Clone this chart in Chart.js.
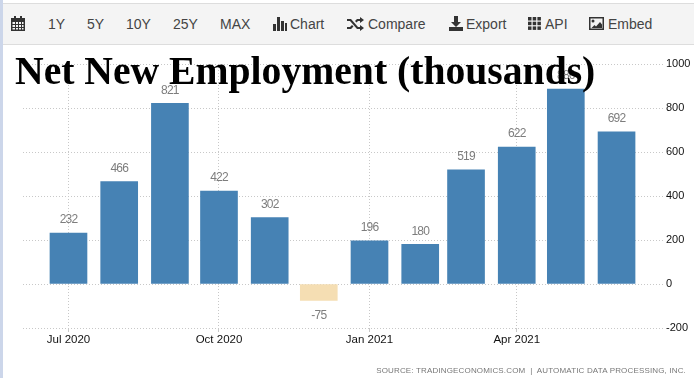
<!DOCTYPE html>
<html>
<head>
<meta charset="utf-8">
<script src="https://cdn.jsdelivr.net/npm/chart.js@4"></script>
<style>
  html, body { margin: 0; padding: 0; background: #fff; overflow: hidden; }
  #page { position: relative; width: 694px; height: 378px; overflow: hidden; }
  #chart { position: absolute; left: 0; top: 0; }
  #edge { position: absolute; left: 0; top: 0; width: 3px; height: 378px; background: #ccd6ea; }
  #bar { position: absolute; left: 3px; top: 3px; width: 691px; height: 42px; box-sizing: border-box;
         background: #f4f4f4; border-top: 1px solid #ddd; border-bottom: 1px solid #ddd; }
  .item { position: absolute; top: 15px; font: 14px/18px "Liberation Sans", Arial, sans-serif; color: #444; white-space: nowrap; }
  svg { position: absolute; fill: #333; }
  #title { position: absolute; left: 15px; top: 47px; font: bold 39.650px/48px "Liberation Serif", "Times New Roman", serif; color: #000; white-space: nowrap; }
  #source { position: absolute; right: 8px; top: 365px; font: 8px/12px "Liberation Sans", Arial, sans-serif; letter-spacing: 0.16px; color: #777; white-space: pre; }
</style>
</head>
<body>
<div id="page">
  <canvas id="chart" width="694" height="378"></canvas>
  <div id="bar"></div>
  <div id="edge"></div>
  <svg style="left:11px;top:16px" width="14" height="15"><path d="M0 2h3V0h2v2h4V0h2v2h3v13H0z"/><path fill="#f4f4f4" d="M1.500 6h2.500v2H1.500zM5 6h2v2H5zM8 6h2v2H8zM11 6h1.500v2H11zM1.500 9h2.500v2H1.500zM5 9h2v2H5zM8 9h2v2H8zM11 9h1.500v2H11zM1.500 12h2.500v1.500H1.500zM5 12h2v1.500H5zM8 12h2v1.500H8zM11 12h1.500v1.500H11z"/></svg>
  <div class="item" style="left:48px">1Y</div>
  <div class="item" style="left:87px">5Y</div>
  <div class="item" style="left:126px">10Y</div>
  <div class="item" style="left:173px">25Y</div>
  <div class="item" style="left:220px">MAX</div>
  <svg style="left:273px;top:17px" width="14" height="14"><rect x="0" y="7" width="3" height="7"/><rect x="4" y="0" width="3" height="14"/><rect x="8" y="4" width="3" height="10"/><rect x="12" y="6" width="2" height="8"/></svg>
  <div class="item" style="left:290px">Chart</div>
  <svg style="left:347px;top:17px" width="17" height="14"><path d="M0 2h4l7 8h2V8l4 3-4 3v-2h-3L3 4H0z"/><path d="M0 10h3l2-2 1.500 1.500L4 12H0z"/><path d="M8 4l2-2h3V0l4 3-4 3V4h-2L9.500 5.500z"/></svg>
  <div class="item" style="left:368px">Compare</div>
  <svg style="left:449px;top:16px" width="14" height="15"><path d="M5 0h4v6h3l-5 5-5-5h3z"/><rect x="0" y="11" width="14" height="4"/></svg>
  <div class="item" style="left:466px">Export</div>
  <svg style="left:528px;top:17px" width="13" height="13"><rect x="0" y="0" width="3.500" height="3.500"/><rect x="4.700" y="0" width="3.500" height="3.500"/><rect x="9.400" y="0" width="3.500" height="3.500"/><rect x="0" y="4.700" width="3.500" height="3.500"/><rect x="4.700" y="4.700" width="3.500" height="3.500"/><rect x="9.400" y="4.700" width="3.500" height="3.500"/><rect x="0" y="9.400" width="3.500" height="3.500"/><rect x="4.700" y="9.400" width="3.500" height="3.500"/><rect x="9.400" y="9.400" width="3.500" height="3.500"/></svg>
  <div class="item" style="left:545px">API</div>
  <svg style="left:589px;top:17px" width="15" height="13"><path d="M0 0h15v13H0z M1.500 1.500v10h12v-10z" fill-rule="evenodd"/><circle cx="4" cy="4" r="1.500"/><path d="M2.500 11l3-3 1.500 1.500 4-4.500 2 2.500V11z"/></svg>
  <div class="item" style="left:608px">Embed</div>
  <div id="title">Net New Employment (thousands)</div>
  <div id="source">SOURCE: TRADINGECONOMICS.COM  |  AUTOMATIC DATA PROCESSING, INC.</div>
</div>
<script>
// дни от 1 июля 2020, месяцы идут неравномерно как на исходном графике
const dayOffsets = [0, 31, 62, 92, 123, 153, 184, 215, 243, 274, 304, 335];
const employment = [232, 466, 821, 422, 302, -75, 196, 180, 519, 622, 886, 692];
const xTickDays = [0, 92, 184, 274];
const xTickLabels = ["Jul 2020", "Oct 2020", "Jan 2021", "Apr 2021"];
const yTicks = [-200, 0, 200, 400, 600, 800, 1000];

const gridColor = "#c8c8c8";
const axisFont = '"Liberation Sans", Arial, sans-serif';

// подписи над столбиками
const valueLabels = {
  id: "valueLabels",
  afterDatasetsDraw(chart) {
    const ctx = chart.ctx;
    const meta = chart.getDatasetMeta(0);
    ctx.save();
    ctx.font = "12px " + axisFont;
    ctx.letterSpacing = "-0.8px";
    ctx.fillStyle = "#7d7d7d";
    ctx.textAlign = "center";
    ctx.textBaseline = "middle";
    meta.data.forEach((bar, i) => {
      const v = employment[i];
      const y = v >= 0 ? bar.y - 13 : bar.y + 15;
      ctx.fillText(String(v), bar.x, y);
    });
    ctx.restore();
  },
};

new Chart(document.getElementById("chart").getContext("2d"), {
  type: "bar",
  data: {
    datasets: [
      {
        data: employment.map((v, i) => ({ x: dayOffsets[i], y: v })),
        backgroundColor: (c) => (c.raw && c.raw.y < 0 ? "#f5deb3" : "#4682b4"),
        barThickness: 37,
      },
    ],
  },
  options: {
    responsive: false,
    animation: false,
    layout: { padding: { left: 23, top: 64, right: 0, bottom: 0 } },
    plugins: { legend: { display: false }, tooltip: { enabled: false } },
    scales: {
      x: {
        type: "linear",
        offset: false,
        min: -27.8,
        max: 363.4,
        afterBuildTicks: (axis) => {
          axis.ticks = xTickDays.map((d) => ({ value: d }));
        },
        afterFit: (axis) => {
          axis.height = 50;
        },
        ticks: {
          autoSkip: false,
          maxRotation: 0,
          padding: 1,
          color: "#111",
          font: { family: axisFont, size: 11.500 },
          callback: (v) => xTickLabels[xTickDays.indexOf(v)],
        },
        grid: { offset: false, color: gridColor, tickLength: 4, tickColor: gridColor },
        border: { display: false, dash: [1, 2] },
      },
      y: {
        position: "right",
        min: -200,
        max: 1000,
        afterBuildTicks: (axis) => {
          axis.ticks = yTicks.map((v) => ({ value: v }));
        },
        afterFit: (axis) => {
          axis.width = 31;
        },
        ticks: {
          padding: 3,
          color: "#111",
          font: { family: axisFont, size: 11 },
          callback: (v) => String(v),
        },
        grid: { color: gridColor, drawTicks: false },
        border: { display: false, dash: [1, 2] },
      },
    },
  },
  plugins: [valueLabels],
});
</script>
</body>
</html>
